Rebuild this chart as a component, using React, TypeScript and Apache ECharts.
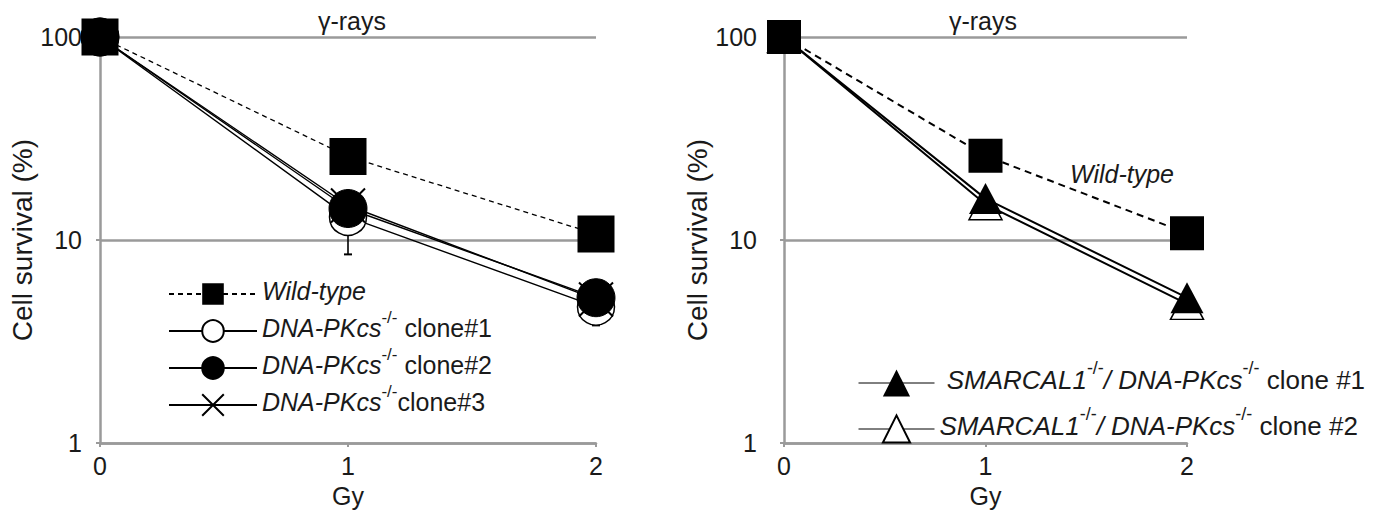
import React, { useEffect, useRef } from 'react';
import * as echarts from 'echarts';

// ---- data ----
const doses = [0, 1, 2];
const leftWildType = [100, 25.8, 10.7];
const leftClone1 = [100, 13.0, 4.7];
const leftClone2 = [100, 14.3, 5.2];
const leftClone3 = [100, 14.8, 5.1];
const leftClone1ErrLow = [null, 8.5, 3.8];
const leftClone1ErrHigh = [null, 14.0, 5.0];
const rightWildType = [100, 26.0, 10.8];
const rightClone1 = [100, 16.0, 5.2];
const rightClone2 = [100, 15.0, 4.85];

const nameWT = 'Wild-type';
const nameL1 = 'DNA-PKcs-/- clone#1';
const nameL2 = 'DNA-PKcs-/- clone#2';
const nameL3 = 'DNA-PKcs-/- clone#3';
const nameR1 = 'SMARCAL1-/-/ DNA-PKcs-/- clone #1';
const nameR2 = 'SMARCAL1-/-/ DNA-PKcs-/- clone #2';

const titleText = 'γ-rays';
const yName = 'Cell survival (%)';
const xName = 'Gy';

const FONT = '"Liberation Sans", Arial, Helvetica, sans-serif';
const NARROW = '"Liberation Sans Narrow", "Arial Narrow", "Liberation Sans", sans-serif';
const GRID_COLOR = '#9a9a9a';
const TEXT_COLOR = '#1a1a1a';
const FS = 25;

const pts = (vals: number[]) => doses.map((d, i) => [d, vals[i]]);

const xAxisBase = (gridIndex: number) => ({
  gridIndex,
  type: 'value',
  min: 0,
  max: 2,
  interval: 1,
  name: xName,
  nameLocation: 'middle',
  nameGap: 37,
  nameTextStyle: { fontSize: FS, color: TEXT_COLOR, fontFamily: FONT },
  axisLine: { show: true, lineStyle: { color: GRID_COLOR, width: 2.5 } },
  axisTick: { show: true, length: 4, lineStyle: { color: GRID_COLOR, width: 2 } },
  axisLabel: { fontSize: FS, color: TEXT_COLOR, fontFamily: FONT, margin: 10 },
  splitLine: { show: false },
});

const yAxisBase = (gridIndex: number, labelMargin: number) => ({
  gridIndex,
  type: 'log',
  logBase: 10,
  min: 1,
  max: 100,
  name: yName,
  nameLocation: 'middle',
  nameGap: 63,
  nameTextStyle: { fontSize: 28, color: TEXT_COLOR, fontFamily: FONT },
  axisLine: { show: true, lineStyle: { color: GRID_COLOR, width: 2.5 } },
  axisTick: { show: true, length: 4, lineStyle: { color: GRID_COLOR, width: 2 } },
  axisLabel: { fontSize: FS, color: TEXT_COLOR, fontFamily: FONT, margin: labelMargin },
  splitLine: { show: true, lineStyle: { color: GRID_COLOR, width: 2.5 } },
});

const richLeft = {
  i: { fontStyle: 'italic', fontSize: FS, lineHeight: 26, padding: [0, 0, 4, 0], verticalAlign: 'bottom', fontFamily: FONT, color: TEXT_COLOR },
  n: { fontSize: FS, lineHeight: 26, padding: [0, 0, 4, 0], verticalAlign: 'bottom', fontFamily: FONT, color: TEXT_COLOR },
  s: { fontSize: 17, lineHeight: 17, padding: [0, 0, 18, 0], verticalAlign: 'bottom', fontFamily: FONT, color: TEXT_COLOR },
};

const richRight = {
  i: { fontStyle: 'italic', fontSize: 26, lineHeight: 28, padding: [0, 0, 4, 0], verticalAlign: 'bottom', fontFamily: NARROW, color: TEXT_COLOR },
  n: { fontSize: 26, lineHeight: 28, padding: [0, 0, 4, 0], verticalAlign: 'bottom', fontFamily: NARROW, color: TEXT_COLOR },
  s: { fontSize: 18, lineHeight: 18, padding: [0, 0, 20, 0], verticalAlign: 'bottom', fontFamily: NARROW, color: TEXT_COLOR },
};

const legendLabels: Record<string, string> = {
  [nameWT]: '{i|Wild-type}{s| }',
  [nameL1]: '{i|DNA-PKcs}{s|-/-}{n| clone#1}',
  [nameL2]: '{i|DNA-PKcs}{s|-/-}{n| clone#2}',
  [nameL3]: '{i|DNA-PKcs}{s|-/-}{n|clone#3}',
  [nameR1]: '{i| SMARCAL1}{s|-/-}{i|/ DNA-PKcs}{s|-/-}{n| clone #1}',
  [nameR2]: '{i|SMARCAL1}{s|-/-}{i|/ DNA-PKcs}{s|-/-}{n| clone #2}',
};

const xPath = 'path://M0,0L10,10M10,0L0,10';

export default function App() {
  const ref = useRef<HTMLDivElement>(null);
  useEffect(() => {
    if (!ref.current) return;
    const chart = echarts.init(ref.current, null, { renderer: 'svg' });
    const errData = doses
      .map((d, i) => [d, leftClone1ErrLow[i], leftClone1ErrHigh[i]])
      .filter((r) => r[1] != null);
    const option: any = {
      animation: false,
      textStyle: { fontFamily: FONT },
      grid: [
        { left: 100, top: 37, width: 496, height: 413 },
        { left: 784, top: 37, width: 403, height: 415 },
      ],
      xAxis: [xAxisBase(0), xAxisBase(1)],
      yAxis: [yAxisBase(0, 18), yAxisBase(1, 27)],
      legend: [
        {
          orient: 'vertical',
          left: 163,
          top: 267,
          itemWidth: 88,
          itemHeight: 27,
          itemGap: 2,
          selectedMode: false,
          data: [nameWT, nameL1, nameL2, nameL3],
          formatter: (n: string) => legendLabels[n] || n,
          textStyle: { fontSize: FS, fontFamily: FONT, color: TEXT_COLOR, rich: richLeft },
        },
        {
          orient: 'vertical',
          left: 853,
          top: 354,
          itemWidth: 76,
          itemHeight: 34,
          itemGap: 8,
          selectedMode: false,
          data: [nameR1, nameR2],
          lineStyle: { width: 1, color: '#000' },
          formatter: (n: string) => legendLabels[n] || n,
          textStyle: { fontSize: 26, fontFamily: NARROW, color: TEXT_COLOR, rich: richRight },
        },
      ],
      graphic: [
        { type: 'text', x: 352, y: 21, style: { text: titleText, fontSize: FS, fontFamily: FONT, fill: TEXT_COLOR, align: 'center', verticalAlign: 'middle' } },
        { type: 'text', x: 983, y: 21, style: { text: titleText, fontSize: FS, fontFamily: FONT, fill: TEXT_COLOR, align: 'center', verticalAlign: 'middle' } },
        { type: 'text', x: 1070, y: 174, style: { text: 'Wild-type', fontSize: FS, fontStyle: 'italic', fontFamily: FONT, fill: TEXT_COLOR, align: 'left', verticalAlign: 'middle' } },
      ],
      series: [
        {
          type: 'custom',
          xAxisIndex: 0,
          yAxisIndex: 0,
          z: 1,
          encode: { x: 0, y: [1, 2] },
          data: errData,
          renderItem: (params: any, api: any) => {
            const x = api.value(0);
            const lo = api.coord([x, api.value(1)]);
            const hi = api.coord([x, api.value(2)]);
            return {
              type: 'group',
              children: [
                { type: 'line', shape: { x1: lo[0], y1: lo[1], x2: hi[0], y2: hi[1] }, style: { stroke: '#000', lineWidth: 1.6 } },
                { type: 'line', shape: { x1: lo[0] - 4, y1: lo[1], x2: lo[0] + 4, y2: lo[1] }, style: { stroke: '#000', lineWidth: 2 } },
              ],
            };
          },
        },
        {
          name: nameL1,
          type: 'line',
          xAxisIndex: 0,
          yAxisIndex: 0,
          z: 2,
          data: pts(leftClone1),
          symbol: 'circle',
          symbolSize: 37,
          lineStyle: { color: '#000', width: 1.4 },
          itemStyle: { color: '#fff', borderColor: '#000', borderWidth: 1.5 },
        },
        {
          name: nameL3,
          type: 'line',
          xAxisIndex: 0,
          yAxisIndex: 0,
          z: 3,
          data: pts(leftClone3),
          symbol: xPath,
          symbolSize: 34,
          lineStyle: { color: '#000', width: 1.4 },
          itemStyle: { color: '#000', borderColor: '#000', borderWidth: 2 },
        },
        {
          name: nameL2,
          type: 'line',
          xAxisIndex: 0,
          yAxisIndex: 0,
          z: 4,
          data: pts(leftClone2),
          symbol: 'circle',
          symbolSize: 38,
          lineStyle: { color: '#000', width: 1.4 },
          itemStyle: { color: '#000', borderColor: '#000', borderWidth: 1 },
        },
        {
          name: nameWT,
          type: 'line',
          xAxisIndex: 0,
          yAxisIndex: 0,
          z: 5,
          data: pts(leftWildType),
          symbol: 'rect',
          symbolSize: 37,
          lineStyle: { color: '#000', width: 1.3, type: [5, 4] },
          itemStyle: { color: '#000' },
        },
        {
          name: nameR2,
          type: 'line',
          xAxisIndex: 1,
          yAxisIndex: 1,
          z: 2,
          data: pts(rightClone2),
          symbol: 'triangle',
          symbolSize: [33, 31],
          lineStyle: { color: '#000', width: 2 },
          itemStyle: { color: '#fff', borderColor: '#000', borderWidth: 1.5 },
        },
        {
          name: nameR1,
          type: 'line',
          xAxisIndex: 1,
          yAxisIndex: 1,
          z: 3,
          data: pts(rightClone1),
          symbol: 'triangle',
          symbolSize: [33, 31],
          lineStyle: { color: '#000', width: 2 },
          itemStyle: { color: '#000' },
        },
        {
          name: nameWT,
          type: 'line',
          xAxisIndex: 1,
          yAxisIndex: 1,
          z: 4,
          data: pts(rightWildType),
          symbol: 'rect',
          symbolSize: 34,
          lineStyle: { color: '#000', width: 2, type: [7, 5] },
          itemStyle: { color: '#000' },
        },
      ],
    };
    chart.setOption(option);
    return () => chart.dispose();
  }, []);
  return (
    <div
      ref={ref}
      style={{ position: 'fixed', left: 0, top: 0, width: 1382, height: 513, background: '#fff' }}
    />
  );
}
